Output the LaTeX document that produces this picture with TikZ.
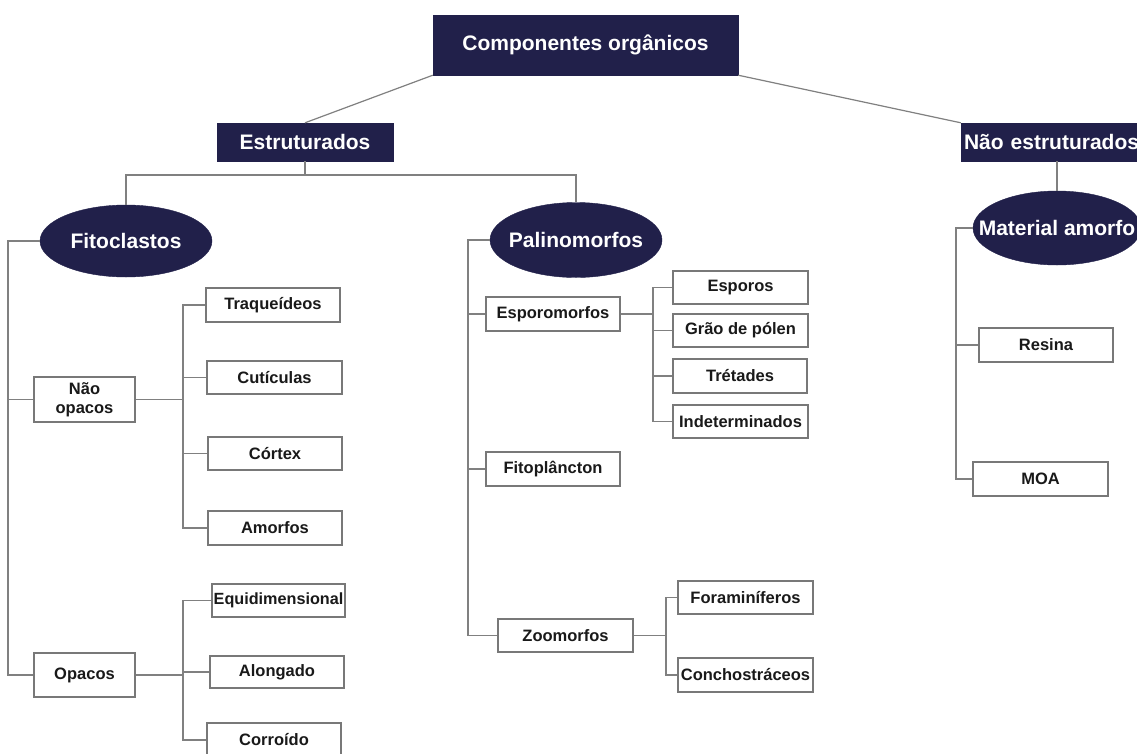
\documentclass[tikz,border=0pt]{standalone}
\usepackage{fontspec}
\setmainfont{Liberation Sans}
\usetikzlibrary{shapes.geometric}
\definecolor{navy}{RGB}{33,32,74}
\definecolor{linegray}{RGB}{128,128,128}
\definecolor{boxgray}{RGB}{120,120,120}
\tikzset{
  conn/.style={draw=linegray, line width=1.2pt},
  bigfont/.style={font=\fontsize{21}{24}\selectfont\bfseries},
  darkbox/.style={rectangle, fill=navy, draw=navy, text=white, inner sep=0pt, bigfont},
  darkell/.style={ellipse, fill=navy, draw=navy, inner sep=0pt},
  elltext/.style={text=white, bigfont, inner sep=0pt},
  leaf/.style={rectangle, fill=white, draw=boxgray, line width=1.1pt, inner sep=0pt,
     text=black!90, font=\fontsize{16.5}{19}\selectfont\bfseries, align=center},
}
\begin{document}
\begin{tikzpicture}[x=1pt,y=-1pt]
\useasboundingbox (0,0) rectangle (1137,753);
\clip (0,0) rectangle (1137,753);
\fill[white] (0,0) rectangle (1137,753);
% top level
\node[darkbox, minimum width=305, minimum height=60] (comp) at (585.5,45) {Componentes orgânicos};
\node[darkbox, minimum width=176, minimum height=38] (estr) at (305,142) {Estruturados};
\node[darkbox, minimum width=182, minimum height=38, text width=182, align=left] (nestr) at (1052,142) {\hspace{3pt}Não estruturados};
% ellipses
\node[darkell, minimum width=172, minimum height=72,
      label={[elltext]center:Fitoclastos}] (fito) at (126,241) {};
\node[darkell, minimum width=172, minimum height=75,
      label={[elltext]center:Palinomorfos}] (pali) at (576,240) {};
\node[darkell, minimum width=168, minimum height=74,
      label={[elltext]center:Material amorfo}] (mat) at (1057,228) {};
% fitoclastos branch
\node[leaf, minimum width=101, minimum height=45] (nopac) at (84.5,399.5) {Não\\opacos};
\node[leaf, minimum width=101, minimum height=44] (opac) at (84.5,675) {Opacos};
\node[leaf, minimum width=134, minimum height=34] (traq) at (273,305) {Traqueídeos};
\node[leaf, minimum width=135, minimum height=33] (cut) at (274.5,377.5) {Cutículas};
\node[leaf, minimum width=134, minimum height=33] (cort) at (275,453.5) {Córtex};
\node[leaf, minimum width=134, minimum height=34] (amorf) at (275,528) {Amorfos};
\node[leaf, minimum width=133, minimum height=33] (equi) at (278.5,600.5) {\fontsize{16.2}{18}\selectfont Equidimensional};
\node[leaf, minimum width=134, minimum height=32] (along) at (277,672) {Alongado};
\node[leaf, minimum width=134, minimum height=34] (corr) at (274,740) {Corroído};
% palinomorfos branch
\node[leaf, minimum width=134, minimum height=34] (espm) at (553,314) {Esporomorfos};
\node[leaf, minimum width=134, minimum height=34] (fitopl) at (553,469) {Fitoplâncton};
\node[leaf, minimum width=135, minimum height=33] (zoo) at (565.5,635.5) {Zoomorfos};
\node[leaf, minimum width=135, minimum height=33] (espo) at (740.5,287.5) {Esporos};
\node[leaf, minimum width=135, minimum height=33] (grao) at (740.5,330.5) {Grão de pólen};
\node[leaf, minimum width=134, minimum height=34] (tret) at (740,376) {Trétades};
\node[leaf, minimum width=135, minimum height=33] (indet) at (740.5,421.5) {Indeterminados};
\node[leaf, minimum width=135, minimum height=33] (foram) at (745.5,597.5) {Foraminíferos};
\node[leaf, minimum width=135, minimum height=34] (conch) at (745.5,675) {Conchostráceos};
% material amorfo branch
\node[leaf, minimum width=134, minimum height=34] (resina) at (1046,345) {Resina};
\node[leaf, minimum width=135, minimum height=34] (moa) at (1040.5,479) {MOA};
% helper coordinates
\coordinate (bar) at (0,175);
\coordinate (fL) at (8,241);
\coordinate (nB) at (183,0);
\coordinate (pL) at (468,240);
\coordinate (eB) at (653,0);
\coordinate (zB) at (666,0);
\coordinate (mL) at (956,228);
% connectors
\draw[conn] (comp.south west) -- (estr.north);
\draw[conn] (comp.south east) -- (nestr.north west);
\draw[conn] (estr.south) -- (estr.south |- bar);
\draw[conn] (fito.north) -- (fito.north |- bar) -- (pali.north |- bar) -- (pali.north);
\draw[conn] (nestr.south -| mat.north) -- (mat.north);
% fitoclastos
\draw[conn] (fito.west) -- (fL) |- (opac.west);
\draw[conn] (fL |- nopac.west) -- (nopac.west);
\draw[conn] (nopac.east) -- (nB |- nopac.east);
\draw[conn] (traq.west) -| (nB |- amorf.west) -- (amorf.west);
\draw[conn] (nB |- cut.west) -- (cut.west);
\draw[conn] (nB |- cort.west) -- (cort.west);
\draw[conn] (opac.east) -- (nB |- opac.east);
\draw[conn] (equi.west) -| (nB |- corr.west) -- (corr.west);
\draw[conn] (nB |- along.west) -- (along.west);
% palinomorfos
\draw[conn] (pali.west) -- (pL) |- (zoo.west);
\draw[conn] (pL |- espm.west) -- (espm.west);
\draw[conn] (pL |- fitopl.west) -- (fitopl.west);
\draw[conn] (espm.east) -- (eB |- espm.east);
\draw[conn] (espo.west) -| (eB |- indet.west) -- (indet.west);
\draw[conn] (eB |- grao.west) -- (grao.west);
\draw[conn] (eB |- tret.west) -- (tret.west);
\draw[conn] (zoo.east) -- (zB |- zoo.east);
\draw[conn] (foram.west) -| (zB |- conch.west) -- (conch.west);
% material amorfo
\draw[conn] (mat.west) -- (mL) |- (moa.west);
\draw[conn] (mL |- resina.west) -- (resina.west);
\end{tikzpicture}
\end{document}
